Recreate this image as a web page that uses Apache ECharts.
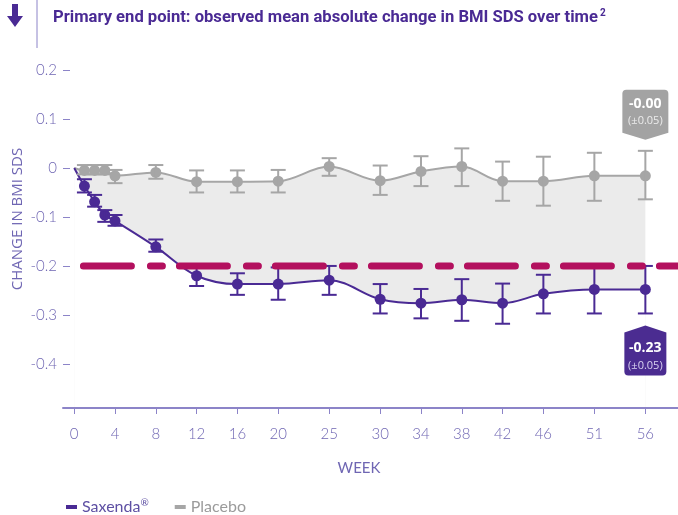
<!DOCTYPE html>
<html>
<head>
<meta charset="utf-8">
<script src="https://cdn.jsdelivr.net/npm/echarts@6/dist/echarts.min.js"></script>
<style>
  html, body { margin: 0; padding: 0; background: #fff; }
  #chart { width: 678px; height: 515px; }
</style>
</head>
<body>
<div id="chart"></div>
<script>
// visit weeks (baseline week 0 is drawn without a marker)
const weeks = [1, 2, 3, 4, 8, 12, 16, 20, 25, 30, 34, 38, 42, 46, 51, 56];
const baseline = [0, 0];

const saxMean = [-0.037, -0.069, -0.096, -0.108, -0.161, -0.220, -0.237, -0.237, -0.229, -0.268, -0.276, -0.269, -0.276, -0.257, -0.248, -0.248];
const saxLow  = [-0.050, -0.079, -0.110, -0.118, -0.171, -0.241, -0.259, -0.269, -0.259, -0.297, -0.307, -0.312, -0.318, -0.297, -0.297, -0.297];
const saxHigh = [-0.023, -0.055, -0.086, -0.096, -0.146, -0.197, -0.215, -0.203, -0.200, -0.237, -0.247, -0.227, -0.236, -0.218, -0.200, -0.200];

const plaMean = [-0.005, -0.005, -0.005, -0.016, -0.009, -0.028, -0.028, -0.027, 0.003, -0.026, -0.007, 0.003, -0.027, -0.027, -0.016, -0.016];
const plaLow  = [-0.013, -0.013, -0.013, -0.031, -0.022, -0.050, -0.050, -0.050, -0.016, -0.055, -0.037, -0.037, -0.067, -0.077, -0.067, -0.064];
const plaHigh = [0.006, 0.006, 0.006, -0.004, 0.006, -0.005, -0.005, -0.004, 0.020, 0.005, 0.024, 0.040, 0.013, 0.023, 0.031, 0.035];

const weekTicks = [0, 4, 8, 12, 16, 20, 25, 30, 34, 38, 42, 46, 51, 56];
const valueTicks = [0.2, 0.1, 0, -0.1, -0.2, -0.3, -0.4];

const threshold = -0.2;
const thresholdSpan = [0.9, 59.2];

// end-of-study callouts: [placebo, saxenda]
const endValues = ['-0.00', '-0.23'];
const endSE = ['±0.05', '±0.05'];

const PURPLE = '#4a2a94';
const GREY = '#a6a6a6';
const LAVENDER = '#6f66b3';
const AXIS = '#8c84c8';

const chart = echarts.init(document.getElementById('chart'));

function lineData(means) {
    const pts = [{value: baseline, symbol: 'none'}];
    weeks.forEach((w, i) => pts.push([w, means[i]]));
    return pts;
}

function barData(lows, highs) {
    return weeks.map((w, i) => [w, lows[i], highs[i]]);
}

// error bar: vertical whisker + two caps
function errorBars(color) {
    return function (params, api) {
        const x = api.value(0);
        const lo = api.coord([x, api.value(1)]);
        const hi = api.coord([x, api.value(2)]);
        const w = 7.5;
        const style = {stroke: color, lineWidth: 2};
        return {
            type: 'group',
            children: [
                {type: 'line', shape: {x1: lo[0], y1: lo[1], x2: hi[0], y2: hi[1]}, style: style},
                {type: 'line', shape: {x1: lo[0] - w, y1: lo[1], x2: lo[0] + w, y2: lo[1]}, style: style},
                {type: 'line', shape: {x1: hi[0] - w, y1: hi[1], x2: hi[0] + w, y2: hi[1]}, style: style}
            ]
        };
    };
}

const last = weeks.length - 1;

chart.setOption({
    animation: false,
    grid: {left: 63, right: 0, top: 70, bottom: 107},
    xAxis: {
        type: 'value',
        min: -1.1,
        max: 59.2,
        z: 5,
        splitLine: {show: false},
        axisLine: {onZero: false, lineStyle: {color: AXIS, width: 2}},
        axisTick: {customValues: weekTicks, length: 6, lineStyle: {color: AXIS, width: 1}},
        axisLabel: {
            customValues: weekTicks,
            margin: 19,
            color: LAVENDER,
            fontSize: 15,
            fontFamily: 'Lato',
            fontWeight: 300
        }
    },
    yAxis: {
        type: 'value',
        min: -0.49,
        max: 0.2,
        splitLine: {show: false},
        axisLine: {show: false, onZero: false},
        axisTick: {customValues: valueTicks, inside: true, length: 7, lineStyle: {color: AXIS, width: 1}},
        axisLabel: {
            customValues: valueTicks,
            margin: 6,
            color: LAVENDER,
            fontSize: 15,
            fontFamily: 'Lato',
            fontWeight: 300,
            formatter: v => (v === 0 ? '0' : v.toFixed(1))
        }
    },
    legend: {
        left: 61,
        top: 493,
        icon: 'rect',
        itemWidth: 11,
        itemHeight: 4,
        itemGap: 26,
        textStyle: {
            fontSize: 16,
            fontFamily: 'Lato',
            rich: {sup: {fontSize: 10, verticalAlign: 'top', padding: [0, 0, 8, 0]}}
        },
        formatter: name => (name === 'Saxenda' ? 'Saxenda{sup|®}' : name),
        data: [
            {name: 'Saxenda', textStyle: {color: '#5d4fa3'}},
            {name: 'Placebo', textStyle: {color: '#9b9b9b'}}
        ]
    },
    graphic: [
        // header marker
        {type: 'polygon', shape: {points: [[12, 4], [18, 4], [18, 16], [23, 16], [15, 27], [7, 16], [12, 16]]}, style: {fill: PURPLE}},
        {type: 'line', shape: {x1: 37, y1: 0, x2: 37, y2: 48}, style: {stroke: AXIS, lineWidth: 1}},
        {
            type: 'text', x: 53, y: 18,
            style: {
                text: '{t|Primary end point: observed mean absolute change in BMI SDS over time}{s|2}',
                verticalAlign: 'middle',
                rich: {
                    t: {fontSize: 16.6, fontWeight: 'bold', fontFamily: 'Roboto', fill: PURPLE},
                    s: {fontSize: 10, fontWeight: 'bold', fontFamily: 'Roboto', fill: PURPLE, verticalAlign: 'top', padding: [0, 0, 10, 2]}
                }
            }
        },
        {
            type: 'text', x: 18, y: 219, rotation: Math.PI / 2,
            style: {text: 'CHANGE IN BMI SDS', fill: LAVENDER, fontSize: 15, fontFamily: 'Open Sans', align: 'center', verticalAlign: 'middle'}
        },
        {
            type: 'text', x: 359, y: 468,
            style: {text: 'WEEK', fill: LAVENDER, fontSize: 15, fontFamily: 'Lato', align: 'center', verticalAlign: 'middle'}
        }
    ],
    series: [
        {
            name: 'Placebo',
            type: 'line',
            data: lineData(plaMean),
            smooth: 0.35,
            symbol: 'circle',
            symbolSize: 11,
            color: GREY,
            lineStyle: {color: GREY, width: 2},
            itemStyle: {color: GREY},
            areaStyle: {color: '#ebebeb', origin: 'start', opacity: 1},
            z: 2,
            markPoint: {
                symbol: 'path://M4,0 L42,0 Q46,0 46,4 L46,43 L23,50 L0,43 L0,4 Q0,0 4,0 Z',
                symbolSize: [46, 50],
                symbolOffset: [0, -61],
                itemStyle: {color: '#a3a3a3'},
                label: {
                    show: true,
                    position: 'inside',
                    offset: [0, -3],
                    formatter: '{a|' + endValues[0] + '}\n{b|(' + endSE[0] + ')}',
                    rich: {
                        a: {color: '#fff', fontSize: 14, fontWeight: 'bold', fontFamily: 'Open Sans', lineHeight: 18},
                        b: {color: '#ececec', fontSize: 11, fontFamily: 'Open Sans', lineHeight: 16}
                    }
                },
                data: [{coord: [weeks[last], plaMean[last]]}]
            }
        },
        {
            name: 'Saxenda',
            type: 'line',
            data: lineData(saxMean),
            smooth: 0.35,
            symbol: 'circle',
            symbolSize: 11,
            color: PURPLE,
            lineStyle: {color: PURPLE, width: 2},
            itemStyle: {color: PURPLE},
            areaStyle: {color: '#ffffff', origin: 'start', opacity: 1},
            z: 2,
            markPoint: {
                symbol: 'path://M0,7 L21,0 L42,7 L42,46 Q42,50 38,50 L4,50 Q0,50 0,46 Z',
                symbolSize: [42, 50],
                symbolOffset: [0, 61],
                itemStyle: {color: '#4b2c91'},
                label: {
                    show: true,
                    position: 'inside',
                    offset: [0, 6],
                    formatter: '{a|' + endValues[1] + '}\n{b|(' + endSE[1] + ')}',
                    rich: {
                        a: {color: '#fff', fontSize: 14, fontWeight: 'bold', fontFamily: 'Open Sans', lineHeight: 18},
                        b: {color: '#d9d2f0', fontSize: 11, fontFamily: 'Open Sans', lineHeight: 16}
                    }
                },
                data: [{coord: [weeks[last], saxMean[last]]}]
            }
        },
        {
            type: 'custom',
            renderItem: errorBars(GREY),
            encode: {x: 0, y: [1, 2]},
            data: barData(plaLow, plaHigh),
            z: 3,
            silent: true
        },
        {
            type: 'custom',
            renderItem: errorBars(PURPLE),
            encode: {x: 0, y: [1, 2]},
            data: barData(saxLow, saxHigh),
            z: 3,
            silent: true
        },
        {
            type: 'line',
            data: thresholdSpan.map(w => [w, threshold]),
            symbol: 'none',
            silent: true,
            lineStyle: {color: '#b3105e', width: 7, type: [48, 19, 12, 17], cap: 'round'},
            z: 4
        }
    ]
});
</script>
</body>
</html>
